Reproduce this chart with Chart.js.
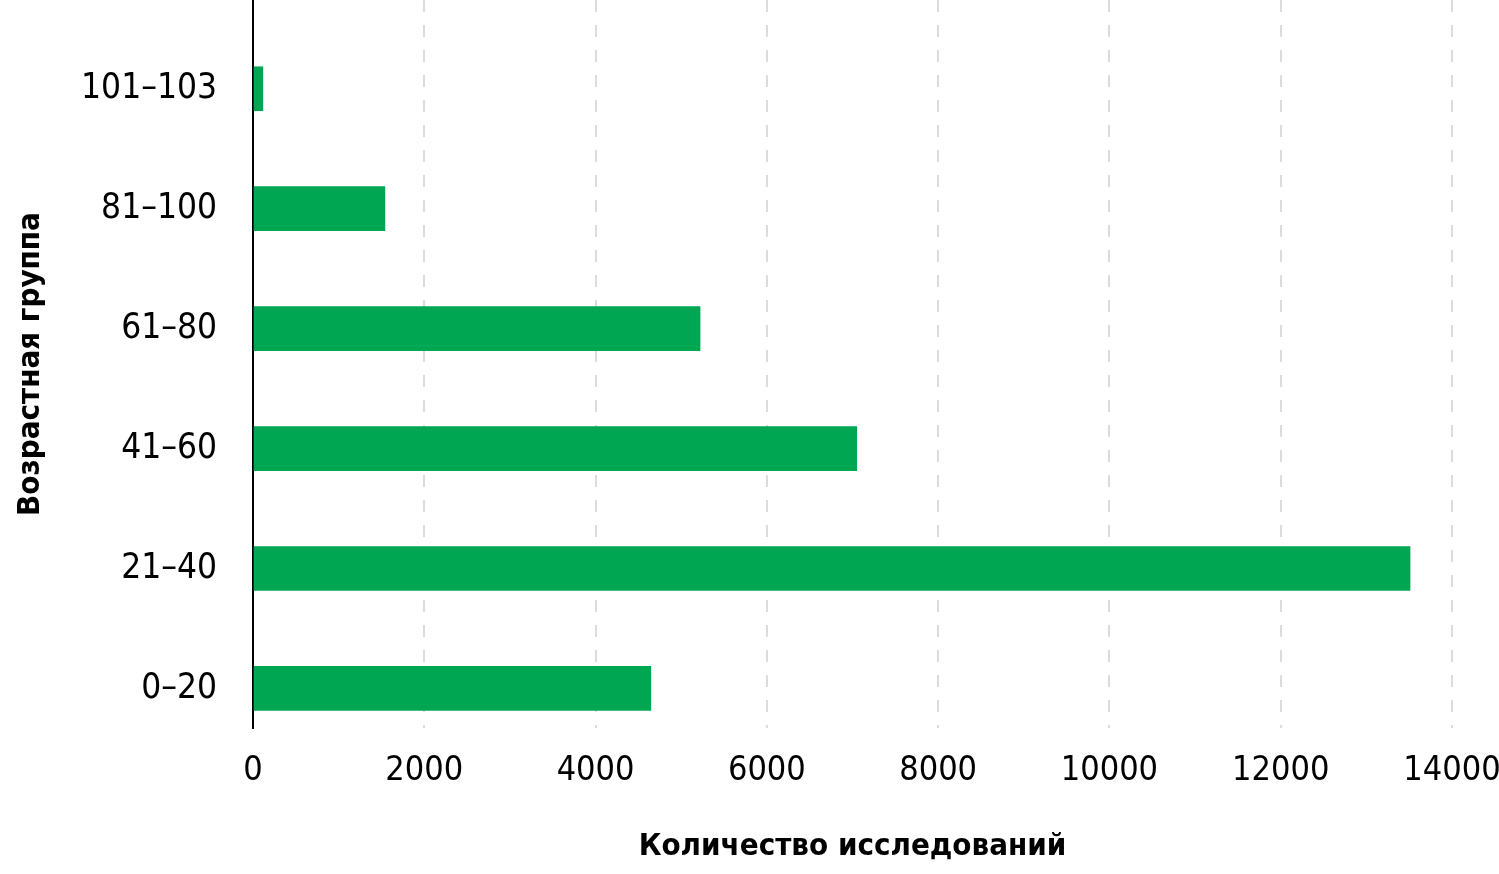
<!DOCTYPE html>
<html lang="ru">
<head>
<meta charset="utf-8">
<title>Возрастная группа</title>
<script src="https://cdn.jsdelivr.net/npm/chart.js@4"></script>
<style>
  html, body { margin: 0; padding: 0; background: #fff; }
  #wrap { width: 1499px; height: 874px; position: relative; }
</style>
</head>
<body>
<div id="wrap"><canvas id="ageChart"></canvas></div>
<script>
// Age groups from bottom to top
const ageGroups = ['0–20', '21–40', '41–60', '61–80', '81–100', '101–103'];
// Number of studies per group
const studyCounts = [4645, 13510, 7050, 5220, 1540, 115];
// X axis ticks
const xTicks = [0, 2000, 4000, 6000, 8000, 10000, 12000, 14000];

const FONT = "'Liberation Sans Narrow', 'DejaVu Sans Condensed', sans-serif";
const GREEN = '#00a651';

const ctx = document.getElementById('ageChart');

new Chart(ctx, {
  type: 'bar',
  data: {
    datasets: [{
      label: 'Количество исследований',
      data: studyCounts.map((v, i) => ({ x: v, y: i })),
      backgroundColor: GREEN,
      borderWidth: 0,
      barThickness: 44
    }]
  },
  options: {
    indexAxis: 'y',
    responsive: true,
    maintainAspectRatio: false,
    animation: false,
    layout: {
      padding: { top: 0, right: 47, bottom: 0, left: 0 }
    },
    plugins: {
      legend: { display: false },
      tooltip: { enabled: false }
    },
    scales: {
      x: {
        type: 'linear',
        min: xTicks[0],
        max: xTicks[xTicks.length - 1],
        afterBuildTicks: function(scale) {
          scale.ticks = xTicks.map(v => ({ value: v }));
        },
        afterFit: function(scale) {
          // fixed axis height so the plot ends where the reference one does
          scale.height = 146;
          scale.paddingLeft = 0;
          scale.paddingRight = 0;
        },
        grid: {
          drawTicks: false,
          lineWidth: 2,
          color: function(c) {
            return c.tick && c.tick.value === 0 ? 'rgba(0,0,0,0)' : '#dcdcdc';
          }
        },
        border: { display: false, dash: [12, 13] },
        ticks: {
          padding: 23,
          color: '#000',
          font: { family: FONT, size: 34 },
          maxRotation: 0,
          autoSkip: false,
          callback: function(value) {
            return String(value);
          }
        },
        title: {
          display: true,
          text: 'Количество исследований',
          color: '#000',
          font: { family: FONT, size: 31, weight: 'bold' },
          padding: { top: 0, bottom: 8 }
        }
      },
      y: {
        type: 'linear',
        offset: false,
        min: -0.33,
        max: 5.74,
        afterBuildTicks: function(scale) {
          scale.ticks = ageGroups.map((g, i) => ({ value: i }));
        },
        afterFit: function(scale) {
          scale.width = 253;
          scale.paddingTop = 0;
          scale.paddingBottom = 0;
        },
        grid: { display: false, drawTicks: false, offset: false },
        border: { display: true, color: '#000', width: 2 },
        ticks: {
          padding: 36,
          color: '#000',
          font: { family: FONT, size: 35 },
          autoSkip: false,
          callback: function(value) {
            return ageGroups[value];
          }
        },
        title: {
          display: true,
          text: 'Возрастная группа',
          color: '#000',
          font: { family: FONT, size: 31, weight: 'bold' },
          padding: { top: 12, bottom: 0 }
        }
      }
    }
  }
});
</script>
</body>
</html>
